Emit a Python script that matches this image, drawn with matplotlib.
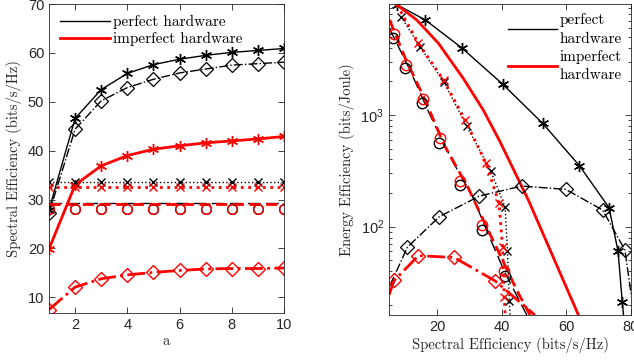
import numpy as np
import matplotlib
matplotlib.use("Agg")
import matplotlib.pyplot as plt
from matplotlib.lines import Line2D

# ---------------- data: left panel (SE vs a) ----------------
a = [1, 2, 3, 4, 5, 6, 7, 8, 9, 10]
se_perf_star = [27.9, 46.6, 52.5, 55.8, 57.6, 58.7, 59.5, 60.1, 60.5, 60.9]
se_perf_diam = [27.2, 44.4, 50.2, 52.9, 54.6, 55.9, 56.7, 57.5, 57.8, 58.1]
se_imp_star = [19.9, 33.0, 36.9, 39.0, 40.3, 41.0, 41.6, 42.0, 42.4, 42.9]
se_imp_diam = [7.5, 12.1, 13.8, 14.6, 15.1, 15.5, 15.8, 15.9, 15.9, 16.0]
se_perf_x = [33.6] * 10
se_imp_x = [32.5] * 10
se_perf_dash = [29.4] * 10
se_imp_dash = [29.1] * 10
se_circ = [28.1] * 10

# ---------------- data: right panel (EE vs SE) ----------------
ee_perf_star_se = [7.5, 16.2, 27.5, 40.2, 52.6, 64.0, 73.2, 76.0, 77.3, 77.9]
ee_perf_star_ee = [9700, 7100, 4000, 1890, 843, 352, 148, 60, 21, 14]

ee_imp_solid_se = [7.5, 13.6, 20.3, 28.0, 34.2, 39.4, 48.2, 63.7]
ee_imp_solid_ee = [9660, 7080, 4390, 2130, 1110, 577, 173, 16.2]

ee_perf_x_se = [8.7, 14.6, 21.9, 29.1, 36.5, 41.0, 41.7, 42.3, 42.5]
ee_perf_x_ee = [7600, 4080, 1990, 796, 318, 149, 61, 21.7, 16.2]

ee_imp_x_se = [7.5, 14.1, 21.9, 28.6, 35.0, 39.1, 40.2, 40.7, 41.0]
ee_imp_x_ee = [9660, 4390, 2060, 900, 374, 162, 65.5, 23.6, 16.2]

ee_perf_dash_se = [5.05, 11.5, 17.7, 24.5, 31.1, 36.3, 40.9, 47.7]
ee_perf_dash_ee = [6010, 2530, 1000, 395, 181, 79, 39, 16.2]

ee_imp_dash_se = [5.2, 10.0, 15.6, 22.4, 29.6, 34.2, 39.4, 44.6, 48.7]
ee_imp_dash_ee = [7080, 3240, 1480, 520, 221, 115, 56, 27, 16.2]

ee_perf_circ_se = [6.2, 10.0, 15.2, 20.6, 27.0, 33.7, 41.0]
ee_perf_circ_ee = [4860, 2620, 1270, 565, 236, 93, 36]
ee_imp_circ_se = [6.6, 10.3, 15.4, 20.9, 27.0, 33.7, 40.7]
ee_imp_circ_ee = [5280, 2800, 1390, 618, 256, 103, 40]

ee_perf_diam_line_se = [5.35, 10.7, 20.6, 33.0, 46.1, 59.75, 71.2, 78.1, 80.3]
ee_perf_diam_line_ee = [30, 65.5, 123, 188, 231, 216, 141, 62, 22]
ee_perf_diam_se = [10.7, 20.6, 33.0, 46.1, 59.75, 71.2, 78.1]
ee_perf_diam_ee = [65.5, 123, 188, 231, 216, 141, 62]

ee_imp_diam_line_se = [5.0, 6.6, 14.1, 25.2, 37.9, 50.2]
ee_imp_diam_line_ee = [24.5, 33, 55, 53, 32.7, 16.2]
ee_imp_diam_se = [6.6, 14.1, 25.2, 37.9]
ee_imp_diam_ee = [33, 55, 53, 32.7]

legend_labels = ["perfect hardware", "imperfect hardware"]
legend_labels_r = ["perfect\nhardware", "imperfect\nhardware"]

# ---------------- style ----------------
plt.rcParams['font.family'] = ['Liberation Sans', 'DejaVu Sans']
plt.rcParams['mathtext.fontset'] = 'custom'
plt.rcParams['mathtext.rm'] = 'Liberation Sans'
plt.rcParams['mathtext.it'] = 'Liberation Sans'
AX_COL = '#262626'
SERIF = 'cmr10'
BLK = 'black'
RED = '#ff0000'
AST = (6, 2, 0)

fig = plt.figure(figsize=(6.34, 3.60), dpi=100)
axL = fig.add_axes([49/634, 1-313/360, (284-49)/634, (313-4)/360])
axR = fig.add_axes([389/634, 1-315/360, (631-389)/634, (315-4)/360])

def style(ax):
    for s in ax.spines.values():
        s.set_color(AX_COL)
        s.set_linewidth(0.6)
    ax.tick_params(which='both', direction='in', top=True, right=True,
                   colors=AX_COL, labelsize=10.5, width=0.6)
    ax.tick_params(which='major', length=4)
    ax.tick_params(which='minor', length=2)

h_perf = Line2D([], [], color=BLK, lw=1.0)
h_imp = Line2D([], [], color=RED, lw=2.0)

# ---------- left ----------
ax = axL
ax.plot(a, se_perf_star, '-', color=BLK, lw=1.0, marker=AST, ms=8, mew=1.0)
ax.plot(a, se_perf_diam, '-.', color=BLK, lw=1.0, marker='D', ms=7, mfc='none', mew=0.9)
ax.plot(a, se_imp_star, '-', color=RED, lw=2.0, marker=AST, ms=8, mew=1.0)
ax.plot(a, se_imp_diam, '-.', color=RED, lw=2.0, marker='D', ms=7, mfc='none', mew=1.0)
ax.plot(a, se_perf_x, ':', color=BLK, lw=1.0, marker='x', ms=6, mew=1.0)
ax.plot(a, se_imp_x, ':', color=RED, lw=2.0, marker='x', ms=6, mew=1.0)
ax.plot(a, se_perf_dash, '--', color=BLK, lw=1.0, dashes=(9, 4))
ax.plot(a, se_imp_dash, '--', color=RED, lw=2.0, dashes=(4, 2))
ax.plot(a, se_circ, 'o', color=BLK, ms=7, mfc='none', mew=1.0, ls='none')
ax.plot(a, se_circ, 'o', color=RED, ms=7, mfc='none', mew=1.0, ls='none')
ax.set_xlim(1, 10)
ax.set_ylim(6.8, 70)
ax.set_xticks([2, 4, 6, 8, 10])
ax.set_yticks([10, 20, 30, 40, 50, 60, 70])
style(ax)
ax.set_xlabel('a', family=SERIF, fontsize=10.5, color=AX_COL, labelpad=2)
ax.set_ylabel('Spectral Efficiency (bits/s/Hz)', family=SERIF, fontsize=10.5,
              color=AX_COL, labelpad=4)
ax.legend([h_perf, h_imp], legend_labels, loc='upper left', frameon=False,
          prop={'family': SERIF, 'size': 11}, handlelength=3.3,
          handletextpad=0.2, borderaxespad=0.3, labelspacing=0.2)

# ---------- right ----------
ax = axR
ax.plot(ee_perf_star_se, ee_perf_star_ee, '-', color=BLK, lw=1.0)
ax.plot(ee_perf_star_se[:-1], ee_perf_star_ee[:-1], ls='none', color=BLK,
        marker=AST, ms=8, mew=1.0)
ax.plot(ee_imp_solid_se, ee_imp_solid_ee, '-', color=RED, lw=2.0)
ax.plot(ee_perf_x_se, ee_perf_x_ee, ':', color=BLK, lw=1.0)
ax.plot(ee_perf_x_se[:-1], ee_perf_x_ee[:-1], ls='none', color=BLK, marker='x', ms=6, mew=1.0)
ax.plot(ee_imp_x_se, ee_imp_x_ee, ':', color=RED, lw=2.0)
ax.plot(ee_imp_x_se[1:-1], ee_imp_x_ee[1:-1], ls='none', color=RED, marker='x', ms=6, mew=1.0)
ax.plot(ee_perf_dash_se, ee_perf_dash_ee, '--', color=BLK, lw=1.0, dashes=(9, 4))
ax.plot(ee_imp_dash_se, ee_imp_dash_ee, '--', color=RED, lw=2.0, dashes=(4, 2))
ax.plot(ee_perf_circ_se, ee_perf_circ_ee, ls='none', color=BLK, marker='o', ms=7.5,
        mfc='none', mew=1.0)
ax.plot(ee_imp_circ_se, ee_imp_circ_ee, ls='none', color=RED, marker='o', ms=7.5,
        mfc='none', mew=1.0)
ax.plot(ee_perf_diam_line_se, ee_perf_diam_line_ee, '-.', color=BLK, lw=1.0)
ax.plot(ee_perf_diam_se, ee_perf_diam_ee, ls='none', color=BLK, marker='D', ms=7,
        mfc='none', mew=0.9)
ax.plot(ee_imp_diam_line_se, ee_imp_diam_line_ee, '-.', color=RED, lw=2.0)
ax.plot(ee_imp_diam_se, ee_imp_diam_ee, ls='none', color=RED, marker='D', ms=7,
        mfc='none', mew=1.0)
ax.set_yscale('log')
ax.set_xlim(5, 80)
ax.set_ylim(16.2, 9850)
ax.set_xticks([20, 40, 60, 80])
ax.set_yticks([100, 1000])
ax.set_yticklabels(['$10^2$', '$10^3$'])
style(ax)
ax.set_xlabel('Spectral Efficiency (bits/s/Hz)', family=SERIF, fontsize=10.5,
              color=AX_COL, labelpad=2)
ax.set_ylabel('Energy Efficiency (bits/Joule)', family=SERIF, fontsize=10.5,
              color=AX_COL, labelpad=4)
leg = ax.legend([h_perf, h_imp], legend_labels_r, loc='upper right', frameon=False,
                prop={'family': SERIF, 'size': 11}, handlelength=3.2,
                handletextpad=0.2, borderaxespad=0.2, labelspacing=0.25)
for t in leg.get_texts():
    t.set_linespacing(1.45)

fig.savefig('out.png', dpi=100)
